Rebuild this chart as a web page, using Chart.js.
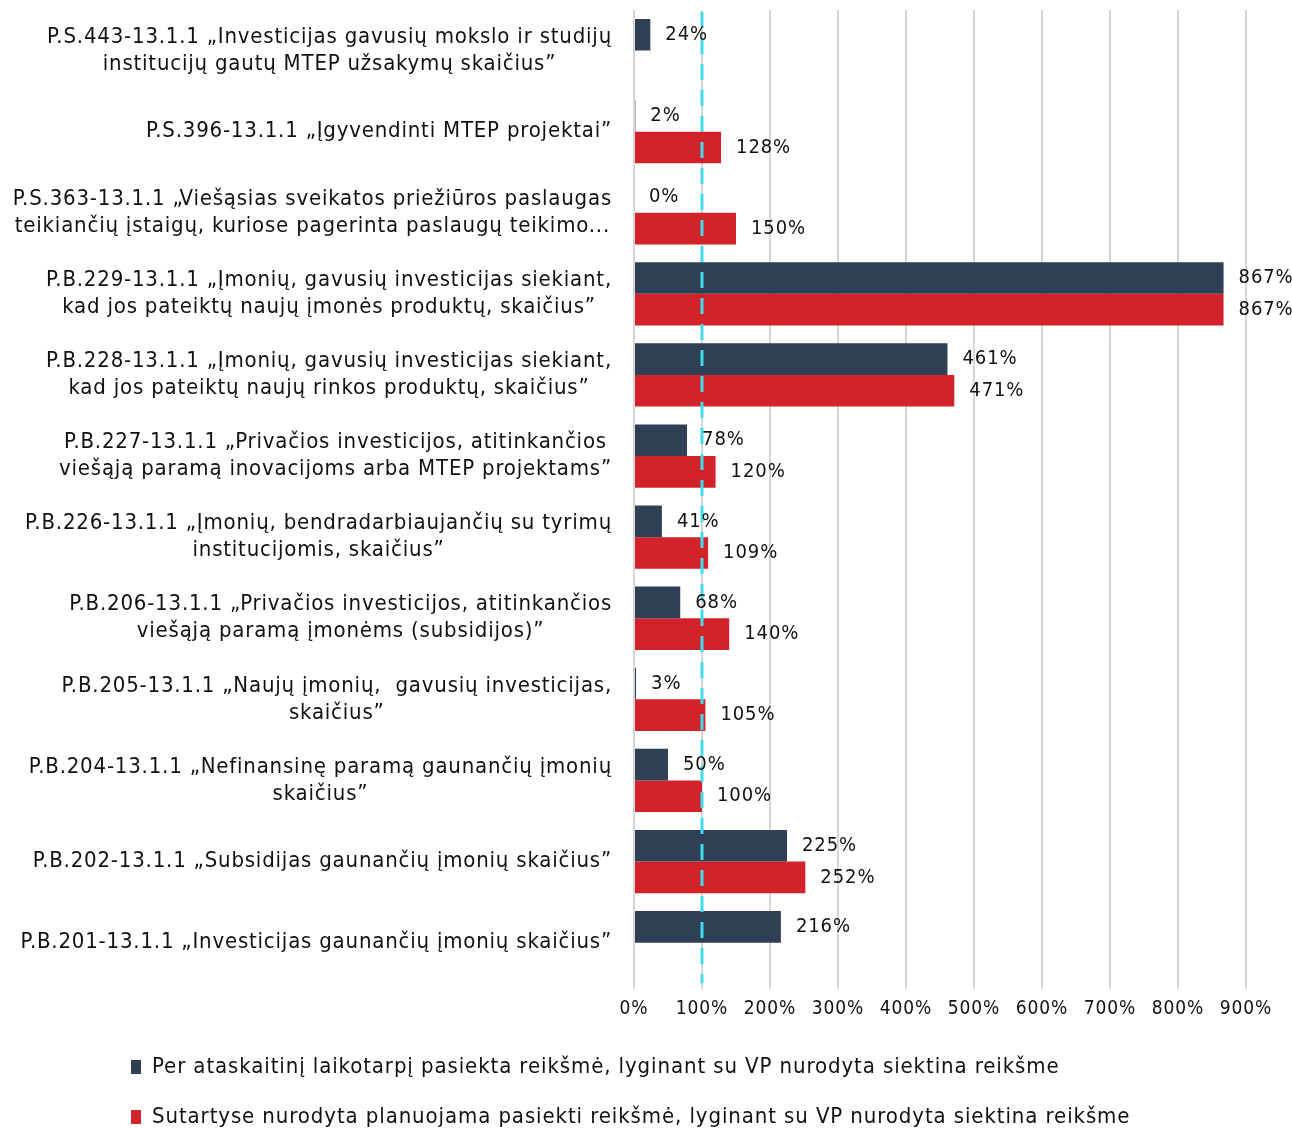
<!DOCTYPE html>
<html>
<head>
<meta charset="utf-8">
<script src="https://cdn.jsdelivr.net/npm/chart.js@4.4.1/dist/chart.umd.min.js"></script>
<style>
html,body{margin:0;padding:0;background:#fff;}
</style>
</head>
<body>
<canvas id="chart" width="1292" height="1128"></canvas>
<script>
// category names, one array item per line of the label
const categories = [
  ['P.S.443-13.1.1 „Investicijas gavusių mokslo ir studijų', 'institucijų gautų MTEP užsakymų skaičius”'],
  ['P.S.396-13.1.1 „Įgyvendinti MTEP projektai”'],
  ['P.S.363-13.1.1 „Viešąsias sveikatos priežiūros paslaugas', 'teikiančių įstaigų, kuriose pagerinta paslaugų teikimo...'],
  ['P.B.229-13.1.1 „Įmonių, gavusių investicijas siekiant,', 'kad jos pateiktų naujų įmonės produktų, skaičius”'],
  ['P.B.228-13.1.1 „Įmonių, gavusių investicijas siekiant,', 'kad jos pateiktų naujų rinkos produktų, skaičius”'],
  ['P.B.227-13.1.1 „Privačios investicijos, atitinkančios', 'viešąją paramą inovacijoms arba MTEP projektams”'],
  ['P.B.226-13.1.1 „Įmonių, bendradarbiaujančių su tyrimų', 'institucijomis, skaičius”'],
  ['P.B.206-13.1.1 „Privačios investicijos, atitinkančios', 'viešąją paramą įmonėms (subsidijos)”'],
  ['P.B.205-13.1.1 „Naujų įmonių,  gavusių investicijas,', 'skaičius”'],
  ['P.B.204-13.1.1 „Nefinansinę paramą gaunančių įmonių', 'skaičius”'],
  ['P.B.202-13.1.1 „Subsidijas gaunančių įmonių skaičius”'],
  ['P.B.201-13.1.1 „Investicijas gaunančių įmonių skaičius”']
];
const achieved = [24, 2, 0, 867, 461, 78, 41, 68, 3, 50, 225, 216];
const planned = [null, 128, 150, 867, 471, 120, 109, 140, 105, 100, 252, null];
const seriesNames = [
  'Per ataskaitinį laikotarpį pasiekta reikšmė, lyginant su VP nurodyta siektina reikšme',
  'Sutartyse nurodyta planuojama pasiekti reikšmė, lyginant su VP nurodyta siektina reikšme'
];
const xTicks = [0, 100, 200, 300, 400, 500, 600, 700, 800, 900];
const targetLine = 100;

const FONT = "'DejaVu Sans Condensed', 'DejaVu Sans', sans-serif";

// the original text is set with a little extra tracking
const spacingPlugin = {
  id: 'spacing',
  beforeLayout(chart) { chart.ctx.letterSpacing = '0.9px' },
  beforeDraw(chart) { chart.ctx.letterSpacing = '0.9px' }
}

const labelPlugin = {
  id: 'customLabels',
  afterDatasetsDraw(chart) {
    const ctx = chart.ctx
    const area = chart.chartArea
    const x = chart.scales.x
    const y = chart.scales.y

    // dashed target line
    ctx.save()
    ctx.strokeStyle = '#3fdcec'
    ctx.lineWidth = 3
    ctx.setLineDash([16, 10])
    const tx = x.getPixelForValue(targetLine)
    ctx.beginPath()
    ctx.moveTo(tx, area.top + 2)
    ctx.lineTo(tx, area.bottom)
    ctx.stroke()
    ctx.restore()

    // value labels
    ctx.save()
    ctx.font = '20px ' + FONT
    ctx.fillStyle = '#111'
    ctx.textAlign = 'left'
    ctx.textBaseline = 'middle'
    chart.data.datasets.forEach((ds, i) => {
      chart.getDatasetMeta(i).data.forEach((bar, j) => {
        const v = ds.data[j]
        if (v == null) return
        ctx.fillText(v + '%', bar.x + 15, bar.y)
      })
    })

    // category labels: block right aligned, lines centred in block
    ctx.font = '22px ' + FONT
    ctx.letterSpacing = '0.8px'
    const right = area.left - 22
    ctx.textAlign = 'center'
    categories.forEach((lines, i) => {
      const cy = y.getPixelForTick(i)
      const block = Math.max(...lines.map(l => ctx.measureText(l).width))
      const cx = right - block / 2
      lines.forEach((l, k) => {
        ctx.fillText(l, cx, cy + (k - (lines.length - 1) / 2) * 27)
      })
    })
    ctx.restore()
  }
}

const chart = new Chart(document.querySelector('#chart'), {
  type: 'bar',
  data: {
    labels: categories,
    datasets: [
      {label: seriesNames[0], data: achieved, backgroundColor: '#2e3f56'},
      {label: seriesNames[1], data: planned, backgroundColor: '#d2232a'}
    ]
  },
  options: {
    responsive: false,
    animation: false,
    indexAxis: 'y',
    categoryPercentage: 0.78,
    barPercentage: 1,
    layout: {padding: {left: 103, right: 46, top: 10, bottom: -10}},
    scales: {
      x: {
        min: 0,
        max: 900,
        afterBuildTicks: s => { s.ticks = xTicks.map(v => ({value: v})) },
        ticks: {callback: v => v + '%', color: '#111', font: {family: FONT, size: 19}, padding: 8,
          maxRotation: 0, minRotation: 0, autoSkip: false},
        grid: {color: '#d6d6d6', lineWidth: 2, tickLength: 6},
        border: {display: false}
      },
      y: {
        ticks: {display: false},
        grid: {display: false},
        border: {display: false},
        afterFit: s => { s.width = 634 - 103 }
      }
    },
    plugins: {
      legend: {
        position: 'bottom',
        align: 'start',
        labels: {boxWidth: 10, boxHeight: 14, padding: 28, color: '#111', font: {family: FONT, size: 22}}
      },
      tooltip: {enabled: false}
    }
  },
  plugins: [spacingPlugin, labelPlugin]
})
</script>
</body>
</html>
